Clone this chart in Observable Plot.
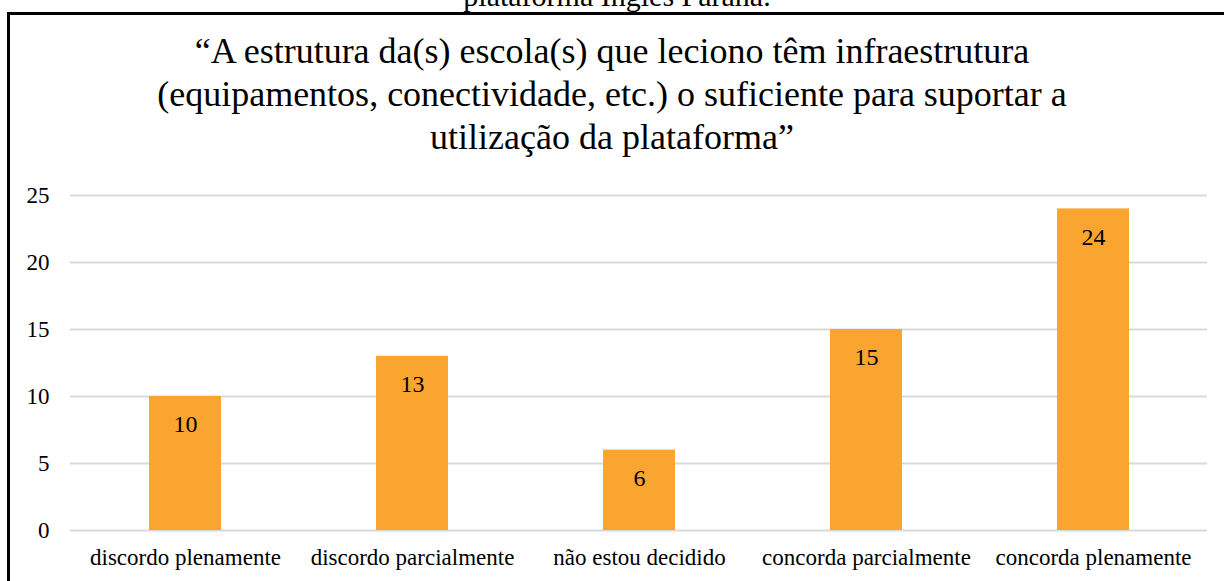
<!DOCTYPE html>
<html>
<head>
<meta charset="utf-8">
<script src="https://cdn.jsdelivr.net/npm/d3@7"></script>
<script src="https://cdn.jsdelivr.net/npm/@observablehq/plot@0.6"></script>
<style>
  html, body { margin: 0; padding: 0; background: #fff; overflow: hidden; }
  body { width: 1224px; height: 581px; position: relative; font-family: "Liberation Serif", "Times New Roman", serif; }
  #caption { position: absolute; left: 0; width: 1234px; top: -18px; text-align: center; font-family: "Liberation Serif", serif; font-size: 30px; line-height: 28px; white-space: nowrap; color: #000; }
  #frame { position: absolute; left: 7px; top: 12px; width: 1300px; height: 700px; border-left: 3px solid #000; border-top: 3px solid #000; }
  #title { position: absolute; left: 7px; width: 1210px; top: 30px; text-align: center; font-family: "Liberation Serif", serif; font-size: 36px; line-height: 43px; white-space: nowrap; color: #000; }
  #chart { position: absolute; left: 0; top: 180px; }
</style>
</head>
<body>
<div id="caption">plataforma Inglês Paraná.</div>
<div id="frame"></div>
<div id="title">“A estrutura da(s) escola(s) que leciono têm infraestrutura<br>(equipamentos, conectividade, etc.) o suficiente para suportar a<br>utilização da plataforma”</div>
<div id="chart"></div>
<script>
const categories = ["discordo plenamente", "discordo parcialmente", "não estou decidido", "concorda parcialmente", "concorda plenamente"];
const values = [10, 13, 6, 15, 24];
const yTicks = [0, 5, 10, 15, 20, 25];

const data = categories.map((c, i) => ({category: c, value: values[i]}));

const chart = Plot.plot({
  width: 1224,
  height: 401,
  marginTop: 15,
  marginBottom: 51,
  marginLeft: 70,
  marginRight: 17,
  style: {fontFamily: "Liberation Serif, Times New Roman, serif", color: "#000", background: "transparent", overflow: "visible"},
  x: {domain: categories, paddingInner: 0.683, paddingOuter: 0.3415, label: null},
  y: {domain: [0, 25], label: null},
  marks: [
    Plot.gridY(yTicks, {stroke: "#d9d9d9", strokeOpacity: 1, strokeWidth: 2}),
    Plot.barY(data, {x: "category", y: "value", fill: "#F9A52F"}),
    Plot.text(data, {x: "category", y: "value", text: d => String(d.value), dy: 28, lineAnchor: "middle", fontSize: 24, fill: "#000"}),
    Plot.axisY({ticks: yTicks, tickSize: 0, tickPadding: 21, fontSize: 23, label: null}),
    Plot.axisX({tickSize: 0, tickPadding: 18, fontSize: 23, label: null})
  ]
});
document.getElementById("chart").appendChild(chart);
</script>
</body>
</html>
